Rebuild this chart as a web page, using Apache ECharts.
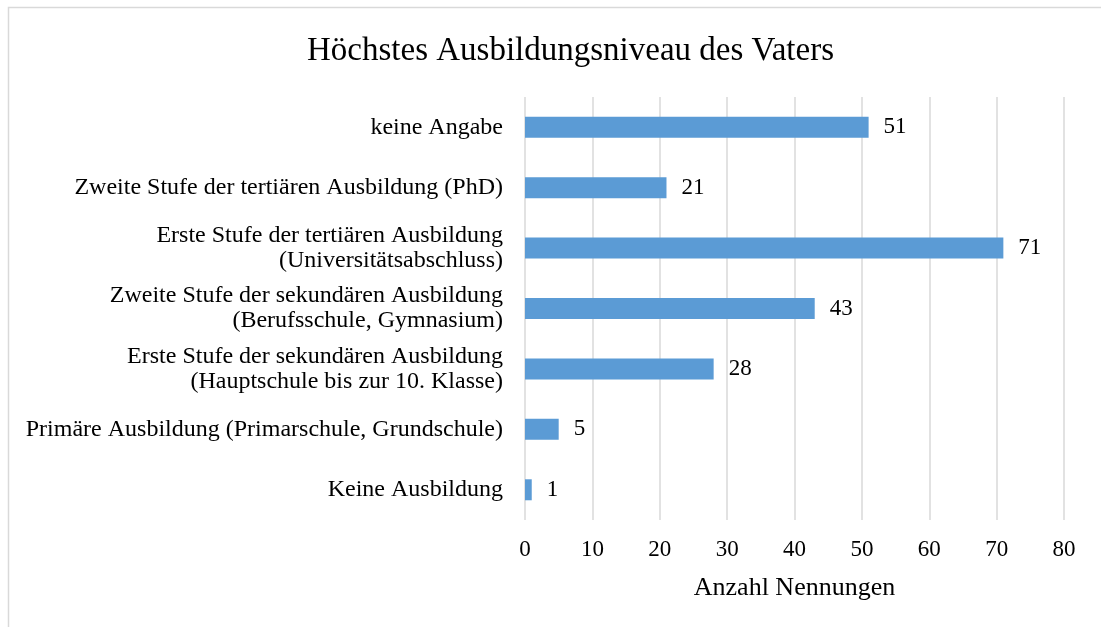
<!DOCTYPE html>
<html>
<head>
<meta charset="utf-8">
<script src="https://cdn.jsdelivr.net/npm/echarts@6/dist/echarts.min.js"></script>
<style>
  html, body { margin: 0; padding: 0; background: #fff; }
  #main { width: 1101px; height: 627px; }
</style>
</head>
<body>
<div id="main"></div>
<script>
  // Kategorien von unten nach oben (wie in der Achse)
  var categories = [
    'Keine Ausbildung',
    'Primäre Ausbildung (Primarschule, Grundschule)',
    'Erste Stufe der sekundären Ausbildung\n(Hauptschule bis zur 10. Klasse)',
    'Zweite Stufe der sekundären Ausbildung\n(Berufsschule, Gymnasium)',
    'Erste Stufe der tertiären Ausbildung\n(Universitätsabschluss)',
    'Zweite Stufe der tertiären Ausbildung (PhD)',
    'keine Angabe'
  ];
  var counts = [1, 5, 28, 43, 71, 21, 51];
  var xTicks = [0, 10, 20, 30, 40, 50, 60, 70, 80];

  var serif = '"Liberation Serif", "Times New Roman", serif';
  var chart = echarts.init(document.getElementById('main'));

  chart.setOption({
    backgroundColor: '#fff',
    animation: false,
    title: {
      text: 'Höchstes Ausbildungsniveau des Vaters',
      left: 302,
      top: 30,
      textStyle: { fontFamily: serif, fontSize: 33, fontWeight: 'normal', color: '#000' }
    },
    graphic: [{
      type: 'rect',
      shape: { x: 8.5, y: 7.5, width: 1200, height: 700 },
      style: { fill: 'none', stroke: '#d9d9d9', lineWidth: 1.5 },
      silent: true
    }],
    grid: { left: 525, right: 37, top: 97, bottom: 107, containLabel: false },
    xAxis: {
      type: 'value',
      min: xTicks[0],
      max: xTicks[xTicks.length - 1],
      interval: 10,
      name: 'Anzahl Nennungen',
      nameLocation: 'middle',
      nameGap: 55,
      nameTextStyle: { fontFamily: serif, fontSize: 26, color: '#000' },
      axisLine: { show: false },
      axisTick: { show: false },
      axisLabel: { fontFamily: serif, fontSize: 23, color: '#000', margin: 18 },
      splitLine: { lineStyle: { color: '#d9d9d9', width: 1.5 } }
    },
    yAxis: {
      type: 'category',
      data: categories,
      axisLine: { show: false },
      axisTick: { show: false },
      axisLabel: {
        fontFamily: serif, fontSize: 24, color: '#000', margin: 22,
        align: 'right', lineHeight: 25
      },
      splitLine: { show: false }
    },
    series: [{
      type: 'bar',
      data: counts,
      barWidth: 21,
      itemStyle: { color: '#5b9bd5' },
      label: {
        show: true,
        position: 'right',
        distance: 15,
        fontFamily: serif,
        fontSize: 23,
        color: '#000'
      }
    }]
  });
</script>
</body>
</html>
